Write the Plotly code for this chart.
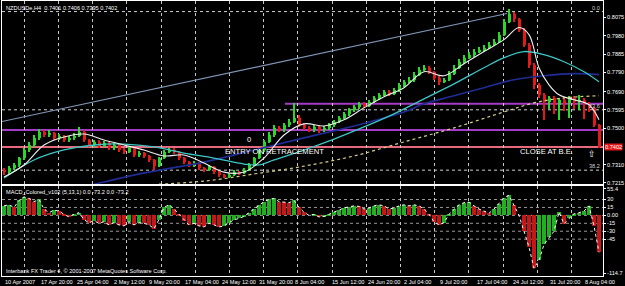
import plotly.graph_objects as go

# ---------------- data ----------------
open_ = [
0.7282,0.7271,0.7292,0.7308,0.7344,0.7386,0.7412,0.7449,0.7480,0.7464,
0.7475,0.7449,0.7459,0.7438,0.7449,0.7459,0.7480,0.7438,0.7412,0.7428,
0.7407,0.7423,0.7396,0.7412,0.7386,0.7376,0.7396,0.7360,0.7370,0.7355,
0.7334,0.7302,0.7344,0.7376,0.7386,0.7376,0.7344,0.7323,0.7308,0.7318,
0.7292,0.7282,0.7297,0.7271,0.7256,0.7245,0.7256,0.7271,0.7266,0.7282,
0.7308,0.7344,0.7386,0.7428,0.7464,0.7501,0.7490,0.7516,0.7532,0.7553,
0.7516,0.7501,0.7490,0.7506,0.7490,0.7501,0.7516,0.7532,0.7553,0.7574,
0.7595,0.7610,0.7626,0.7616,0.7637,0.7657,0.7673,0.7689,0.7678,0.7699,
0.7720,0.7741,0.7751,0.7778,0.7804,0.7814,0.7793,0.7762,0.7741,0.7751,
0.7783,0.7814,0.7845,0.7866,0.7882,0.7898,0.7908,0.7918,0.7934,0.7950,
0.7986,0.8054,0.8091,0.8065,0.8012,0.7934,0.7830,0.7725,0.7673,0.7637,
0.7657,0.7621,0.7647,0.7631,0.7657,0.7637,0.7647,0.7626,0.7605,0.7516,
]
high = [
0.7292,0.7302,0.7318,0.7352,0.7396,0.7425,0.7462,0.7496,0.7490,0.7488,
0.7482,0.7470,0.7466,0.7460,0.7472,0.7506,0.7488,0.7445,0.7440,0.7436,
0.7435,0.7430,0.7422,0.7418,0.7396,0.7406,0.7402,0.7382,0.7378,0.7362,
0.7340,0.7352,0.7385,0.7398,0.7395,0.7382,0.7350,0.7330,0.7328,0.7322,
0.7300,0.7306,0.7302,0.7278,0.7262,0.7265,0.7280,0.7278,0.7290,0.7316,
0.7352,0.7396,0.7440,0.7478,0.7515,0.7512,0.7528,0.7545,0.7631,0.7566,
0.7525,0.7512,0.7518,0.7515,0.7512,0.7528,0.7542,0.7565,0.7585,0.7606,
0.7622,0.7638,0.7635,0.7648,0.7668,0.7685,0.7700,0.7698,0.7710,0.7732,
0.7752,0.7765,0.7790,0.7816,0.7828,0.7822,0.7798,0.7770,0.7762,0.7795,
0.7826,0.7858,0.7878,0.7895,0.7910,0.7922,0.7930,0.7946,0.7962,0.7998,
0.8068,0.8117,0.8105,0.8075,0.8020,0.7942,0.7838,0.7735,0.7682,0.7668,
0.7665,0.7658,0.7660,0.7668,0.7666,0.7672,0.7655,0.7635,0.7612,0.7522,
]
low = [
0.7258,0.7262,0.7284,0.7300,0.7336,0.7375,0.7404,0.7440,0.7452,0.7455,
0.7440,0.7438,0.7428,0.7430,0.7440,0.7452,0.7430,0.7402,0.7404,0.7398,
0.7400,0.7386,0.7388,0.7378,0.7365,0.7370,0.7352,0.7350,0.7345,0.7325,
0.7271,0.7295,0.7338,0.7368,0.7366,0.7336,0.7315,0.7298,0.7300,0.7284,
0.7274,0.7276,0.7262,0.7248,0.7238,0.7240,0.7250,0.7258,0.7260,0.7278,
0.7302,0.7338,0.7378,0.7420,0.7456,0.7478,0.7482,0.7505,0.7525,0.7505,
0.7490,0.7478,0.7482,0.7476,0.7480,0.7492,0.7508,0.7525,0.7545,0.7565,
0.7585,0.7600,0.7605,0.7608,0.7628,0.7648,0.7665,0.7668,0.7670,0.7690,
0.7712,0.7732,0.7742,0.7770,0.7795,0.7782,0.7750,0.7725,0.7732,0.7745,
0.7775,0.7805,0.7835,0.7858,0.7872,0.7888,0.7898,0.7910,0.7925,0.7942,
0.7978,0.8045,0.8052,0.8000,0.7920,0.7815,0.7705,0.7655,0.7542,0.7600,
0.7575,0.7542,0.7590,0.7550,0.7600,0.7595,0.7548,0.7585,0.7505,0.7396,
]
close = [
0.7271,0.7292,0.7308,0.7344,0.7386,0.7412,0.7449,0.7480,0.7464,0.7475,
0.7449,0.7459,0.7438,0.7449,0.7459,0.7480,0.7438,0.7412,0.7428,0.7407,
0.7423,0.7396,0.7412,0.7386,0.7376,0.7396,0.7360,0.7370,0.7355,0.7334,
0.7302,0.7344,0.7376,0.7386,0.7376,0.7344,0.7323,0.7308,0.7318,0.7292,
0.7282,0.7297,0.7271,0.7256,0.7245,0.7256,0.7271,0.7266,0.7282,0.7308,
0.7344,0.7386,0.7428,0.7464,0.7501,0.7490,0.7516,0.7532,0.7553,0.7516,
0.7501,0.7490,0.7506,0.7490,0.7501,0.7516,0.7532,0.7553,0.7574,0.7595,
0.7610,0.7626,0.7616,0.7637,0.7657,0.7673,0.7689,0.7678,0.7699,0.7720,
0.7741,0.7751,0.7778,0.7804,0.7814,0.7793,0.7762,0.7741,0.7751,0.7783,
0.7814,0.7845,0.7866,0.7882,0.7898,0.7908,0.7918,0.7934,0.7950,0.7986,
0.8054,0.8091,0.8065,0.8012,0.7934,0.7830,0.7725,0.7673,0.7637,0.7657,
0.7621,0.7647,0.7631,0.7657,0.7637,0.7647,0.7626,0.7605,0.7516,0.7402,
]
macd = [
18,20,15,28,35,32,26,30,12,5,
10,8,2,-3,2,5,-8,-14,-10,-15,
-12,-18,-14,-18,-20,-12,-18,-14,-15,-18,
-25,-8,15,20,12,2,-10,-18,-15,-20,
-22,-15,-18,-22,-20,-14,-8,-6,-2,5,
12,20,26,30,32,26,25,24,28,15,
6,0,2,-3,-2,2,6,10,14,16,
18,17,12,14,18,20,18,12,14,18,
20,18,20,18,12,2,-12,-18,-14,2,
12,20,24,25,18,12,8,4,12,22,
33,38,20,0,-30,-60,-100,-85,-55,-42,
-30,6,-16,-6,3,5,8,18,-20,-70,
]

white_ma_idx = [0,4,8,12,16,20,24,28,32,36,40,44,48,52,56,60,64,68,72,76,
                80,84,88,92,96,100,103,105,107,109,111,114,117,119]
white_ma = [0.7245,0.7308,0.7412,0.7454,0.7469,0.7438,0.7412,0.7386,0.7355,0.7360,
            0.7318,0.7271,0.7271,0.7344,0.7464,0.7522,0.7511,0.7543,0.7605,0.7663,
            0.7710,0.7793,0.7772,0.7835,0.7898,0.7960,0.8023,0.7986,0.7814,0.7725,
            0.7673,0.7647,0.7621,0.7543]
cyan_ma_idx = [0,6,12,18,24,30,36,42,48,51,54,60,66,72,78,84,90,96,100,104,108,112,116,119]
cyan_ma = [0.7240,0.7334,0.7386,0.7412,0.7417,0.7402,0.7370,0.7344,0.7313,0.7308,
           0.7334,0.7386,0.7443,0.7506,0.7574,0.7652,0.7730,0.7814,0.7866,0.7898,
           0.7882,0.7845,0.7793,0.7741]
navy_ma_idx = [18,20,25,30,40,50,60,70,80,84,90,96,102,108,114,119]
navy_ma = [0.7208,0.7219,0.7250,0.7276,0.7323,0.7386,0.7449,0.7511,0.7584,0.7626,
           0.7668,0.7710,0.7751,0.7772,0.7783,0.7778]
sand_ma_idx = [31,40,50,60,70,80,90,100,106,112,119]
sand_ma = [0.7208,0.7224,0.7261,0.7302,0.7355,0.7428,0.7501,0.7584,0.7631,0.7657,0.7668]

trend_idx = [-0.4, 100.6]
trend_price = [0.7534, 0.8096]

price_ticks = [0.8075, 0.7980, 0.7885, 0.7790, 0.7690, 0.7595, 0.7500, 0.7310, 0.7215]
macd_ticks = [50, 30, 15, 0, -15, -30, -45, -110]
macd_tick_text = ["55.4", "30", "15", "0.00", "-15", "-30", "-45", "-114.7"]
macd_levels = [30, 15, 0, -15, -30, -45]

time_labels = ["10 Apr 2007", "17 Apr 20:00", "25 Apr 04:00", "2 May 12:00", "9 May 20:00",
               "17 May 04:00", "24 May 12:00", "31 May 20:00", "8 Jun 04:00", "15 Jun 12:00",
               "24 Jun 20:00", "2 Jul 04:00", "9 Jul 20:00", "17 Jul 04:00", "24 Jul 12:00",
               "31 Jul 20:00", "8 Aug 04:00"]
time_label_pos = [-0.4, 6.8, 14, 21.4, 28.4, 35.6, 43, 50.4, 57.6, 65, 72.2, 79.4, 86.6,
                  94, 101.2, 108.6, 115.6]

fib_levels = [0.8106, 0.7595, 0.7281]
fib_names = ["0.0", "23.6", "38.2"]
upper_level, upper_start = 0.7626, 56.2
mid_level = 0.7490
entry_level = 0.7402
last_price = "0.7402"

# ---------------- figure ----------------
idx = list(range(len(close)))
UP, DN = "#2ad82a", "#e41a1a"
ccol = [UP if c >= o else DN for o, c in zip(open_, close)]

fig = go.Figure()
FONT = "Liberation Sans"

# MA lines behind candles
fig.add_trace(go.Scatter(x=trend_idx, y=trend_price, mode="lines",
                         line=dict(color="#7f95b5", width=1.2), hoverinfo="skip"))
fig.add_trace(go.Scatter(x=sand_ma_idx, y=sand_ma, mode="lines", line_shape="spline",
                         line=dict(color="#d8cf8a", width=1.2, dash="dot"), hoverinfo="skip"))
fig.add_trace(go.Scatter(x=navy_ma_idx, y=navy_ma, mode="lines", line_shape="spline",
                         line=dict(color="#1f2c96", width=1.6), hoverinfo="skip"))
fig.add_trace(go.Scatter(x=cyan_ma_idx, y=cyan_ma, mode="lines", line_shape="spline",
                         line=dict(color="#3cc6c6", width=1.3), hoverinfo="skip"))

# candles: wicks + bodies
fig.add_trace(go.Bar(x=idx, y=[h - l for h, l in zip(high, low)], base=low, width=0.24,
                     marker=dict(color=ccol, line=dict(width=0)), hoverinfo="skip"))
fig.add_trace(go.Bar(x=idx, y=[max(abs(c - o), 0.0002) for o, c in zip(open_, close)],
                     base=[min(o, c) for o, c in zip(open_, close)], width=0.6,
                     marker=dict(color=ccol, line=dict(width=0)), hoverinfo="skip"))

fig.add_trace(go.Scatter(x=white_ma_idx, y=white_ma, mode="lines", line_shape="spline",
                         line=dict(color="#eeeeee", width=1.1), hoverinfo="skip"))

# MACD
mcol = ["#22b022" if (i == 0 or v >= macd[i - 1]) else "#c41818" for i, v in enumerate(macd)]
fig.add_trace(go.Bar(x=idx, y=macd, width=0.9, marker=dict(color=mcol, line=dict(width=0)),
                     xaxis="x2", yaxis="y2", hoverinfo="skip"))
fig.add_trace(go.Scatter(x=idx, y=macd, mode="lines", line=dict(color="#ffffff", width=1, dash="dot"),
                         xaxis="x2", yaxis="y2", hoverinfo="skip"))

shapes = []
for lv in fib_levels:
    shapes.append(dict(type="line", xref="paper", x0=0, x1=1, yref="y", y0=lv, y1=lv,
                       line=dict(color="#d0d0d0", width=1, dash="dot"), layer="below"))
shapes.append(dict(type="line", xref="x", x0=upper_start, x1=119.8, yref="y", y0=upper_level, y1=upper_level,
                   line=dict(color="#a53cc8", width=2), layer="below"))
shapes.append(dict(type="line", xref="paper", x0=0, x1=1, yref="y", y0=mid_level, y1=mid_level,
                   line=dict(color="#a53cc8", width=2), layer="below"))
shapes.append(dict(type="line", xref="paper", x0=0, x1=1, yref="y", y0=entry_level, y1=entry_level,
                   line=dict(color="#e66a7c", width=2), layer="below"))
for lv in macd_levels:
    shapes.append(dict(type="line", xref="paper", x0=0, x1=1, yref="y2", y0=lv, y1=lv,
                       line=dict(color="#9a9a9a", width=1, dash="dot"), layer="below"))

ann = []
small = dict(family=FONT, size=5.6, color="#ffffff")
ann.append(dict(text="NZDUSDe,H4  0.7401 0.7406 0.7395 0.7402", xref="paper", yref="paper",
                x=0, y=1, xanchor="left", yanchor="top", xshift=2, yshift=-2, showarrow=False, font=small))
ann.append(dict(text="MACD_Colored_v102 (5,13,1) 0.0 -73.2 0.0 -73.2", xref="paper", yref="y2 domain",
                x=0, y=1, xanchor="left", yanchor="top", xshift=2, yshift=-1, showarrow=False, font=small))
ann.append(dict(text="Interbank FX Trader 4, © 2001-2007 MetaQuotes Software Corp.", xref="paper",
                yref="y2 domain", x=0, y=0, xanchor="left", yanchor="bottom", xshift=2, yshift=0,
                showarrow=False, font=small))
for name, lv in zip(fib_names, fib_levels):
    ann.append(dict(text=name, xref="paper", yref="y", x=1, y=lv, xanchor="right", yanchor="bottom",
                    xshift=-1, yshift=-1, showarrow=False, font=dict(family=FONT, size=5.6, color="#cfcfcf")))
big = dict(family=FONT, size=7.6, color="#ffffff")
ann.append(dict(text="ENTRY ON RETRACEMENT", x=54, y=0.7376, xref="x", yref="y", showarrow=False, font=big))
ann.append(dict(text="0", x=49, y=0.7438, xref="x", yref="y", showarrow=False, font=big))
ann.append(dict(text="CLOSE AT B.E.", x=108.4, y=0.7376, xref="x", yref="y", showarrow=False, font=big))
ann.append(dict(text="⇧", x=117.6, y=0.7365, xref="x", yref="y", showarrow=False,
                font=dict(family="DejaVu Sans", size=9, color="#ffffff")))
ann.append(dict(text=last_price, xref="paper", yref="y", x=1, y=entry_level, xanchor="left",
                xshift=1, showarrow=False, bgcolor="#e01818", borderpad=0,
                font=dict(family=FONT, size=5.6, color="#ffffff")))
for t, p in zip(time_labels, time_label_pos):
    ann.append(dict(text=t, xref="x2", yref="paper", x=p, y=0, xanchor="left", yanchor="top",
                    xshift=1, yshift=-1, showarrow=False, font=small))

xgrid = dict(showgrid=True, gridcolor="#c8c8c8", griddash="dot", gridwidth=1, tick0=4.06, dtick=6.84,
             showticklabels=False, ticks="", zeroline=False, showline=True, linecolor="#ffffff",
             linewidth=1, mirror=True, range=[-0.4, 119.8])

fig.update_layout(
    width=625, height=286, margin=dict(l=2, r=22, t=1, b=10),
    paper_bgcolor="#000000", plot_bgcolor="#000000", showlegend=False,
    barmode="overlay", bargap=0,
    xaxis=dict(domain=[0, 1], anchor="y", **xgrid),
    xaxis2=dict(domain=[0, 1], anchor="y2", matches="x", **xgrid),
    yaxis=dict(domain=[0.3345, 1], range=[0.7209, 0.8161], side="right", anchor="x",
               tickvals=price_ticks, ticktext=[f"{v:.4f}" for v in price_ticks],
               tickfont=dict(family=FONT, size=5.6, color="#ffffff"), ticks="outside",
               ticklen=2, tickcolor="#ffffff", showgrid=False, zeroline=False,
               showline=True, linecolor="#ffffff", linewidth=1, mirror=True),
    yaxis2=dict(domain=[0, 0.327], range=[-114.7, 55.4], side="right", anchor="x2",
                tickvals=macd_ticks, ticktext=macd_tick_text,
                tickfont=dict(family=FONT, size=5.6, color="#ffffff"), ticks="outside",
                ticklen=2, tickcolor="#ffffff", showgrid=False, zeroline=False,
                showline=True, linecolor="#ffffff", linewidth=1, mirror=True),
    shapes=shapes, annotations=ann,
)

fig.write_html("out.html")
